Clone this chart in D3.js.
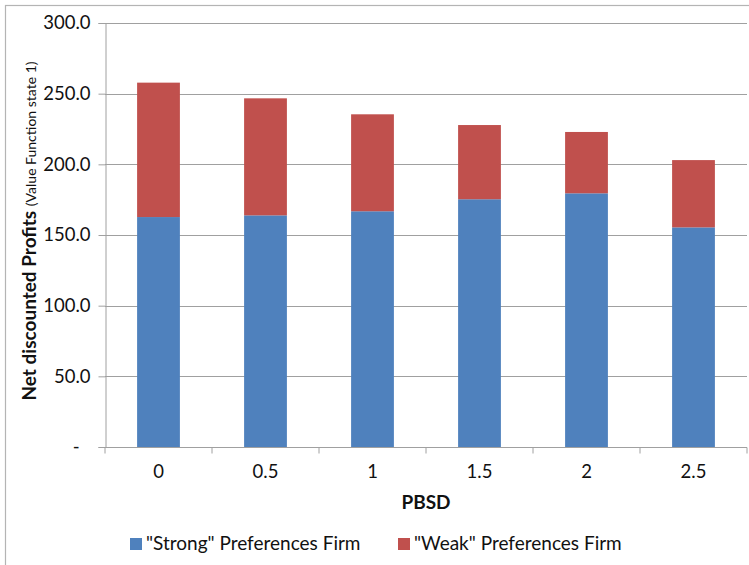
<!DOCTYPE html>
<html>
<head>
<meta charset="utf-8">
<script src="https://cdn.jsdelivr.net/npm/d3@7"></script>
<style>
  html, body { margin: 0; padding: 0; background: #fff; }
  svg { display: block; font-family: Lato, "Open Sans", sans-serif; }
</style>
</head>
<body>
<svg id="chart" width="749" height="565"></svg>
<script>
// PBSD levels on the x axis
const categories = ["0", "0.5", "1", "1.5", "2", "2.5"];
// Net discounted profits per firm type
const strongValues = [162.7, 163.9, 166.8, 175.3, 179.5, 155.4];
const weakValues = [95.1, 82.8, 68.6, 52.5, 43.4, 47.6];
const seriesNames = ["\"Strong\" Preferences Firm", "\"Weak\" Preferences Firm"];
const seriesColors = ["#4F81BD", "#C0504D"];
const yTicks = [0, 50, 100, 150, 200, 250, 300];

const svg = d3.select("#chart");
const margin = { left: 105, right: 2, top: 23, bottom: 118 };
const W = 749, H = 565;
const x0 = margin.left, x1 = W - margin.right;
const yTop = margin.top, yBottom = H - margin.bottom;

// outer frame
svg.append("rect")
  .attr("x", 5.5).attr("y", 5.5)
  .attr("width", 800).attr("height", 800)
  .attr("fill", "none").attr("stroke", "#b4b4b4").attr("stroke-width", 1.2);

const rows = categories.map((c, i) => ({ cat: c, strong: strongValues[i], weak: weakValues[i] }));
const stack = d3.stack().keys(["strong", "weak"])(rows);

const x = d3.scaleBand().domain(categories).range([x0, x1]).paddingInner(0.6).paddingOuter(0.3);
const y = d3.scaleLinear().domain([0, 300]).range([yBottom, yTop]);

// gridlines
svg.append("g")
  .selectAll("line")
  .data(yTicks.filter(d => d > 0))
  .join("line")
  .attr("x1", x0).attr("x2", x1)
  .attr("y1", d => Math.round(y(d)) + 0.5).attr("y2", d => Math.round(y(d)) + 0.5)
  .attr("stroke", "#a0a0a0").attr("stroke-width", 1);

// stacked bars
svg.append("g")
  .selectAll("g")
  .data(stack)
  .join("g")
  .attr("fill", (d, i) => seriesColors[i])
  .selectAll("rect")
  .data(d => d)
  .join("rect")
  .attr("x", d => x(d.data.cat))
  .attr("width", x.bandwidth())
  .attr("y", d => y(d[1]))
  .attr("height", d => y(d[0]) - y(d[1]));

// y axis
const yAxis = d3.axisLeft(y).tickValues(yTicks).tickSize(7).tickPadding(8)
  .tickFormat(d => d === 0 ? "-" : d3.format(".1f")(d));
const gy = svg.append("g").attr("transform", `translate(${x0 + 0.5},0)`).call(yAxis);
gy.select(".domain").attr("stroke", "#a0a0a0");
gy.selectAll(".tick line").attr("stroke", "#a0a0a0");
gy.selectAll(".tick text")
  .attr("fill", "#111").style("font-size", "18.5px").style("font-family", "Lato, sans-serif")
  .filter(d => d === 0).attr("x", -26);

// x axis with boundary ticks between categories
const gx = svg.append("g").attr("transform", `translate(0,${Math.round(yBottom) + 0.5})`);
gx.append("line").attr("x1", x0).attr("x2", x1).attr("stroke", "#a0a0a0");
const boundaries = d3.range(categories.length + 1).map(i => x0 + i * (x1 - x0) / categories.length);
gx.selectAll(".bt").data(boundaries).join("line")
  .attr("x1", d => d).attr("x2", d => d).attr("y1", 0).attr("y2", 6)
  .attr("stroke", "#a0a0a0");
gx.selectAll(".lbl").data(categories).join("text")
  .attr("x", d => x(d) + x.bandwidth() / 2)
  .attr("y", 30)
  .attr("text-anchor", "middle")
  .attr("fill", "#111").style("font-size", "18.5px")
  .text(d => d);

// axis titles
svg.append("text")
  .attr("x", (x0 + x1) / 2).attr("y", 509)
  .attr("text-anchor", "middle")
  .attr("fill", "#111").style("font-size", "19px").style("font-weight", "bold")
  .text("PBSD");

const yt = svg.append("text")
  .attr("transform", `translate(36,${(yTop + yBottom) / 2 - 4}) rotate(-90)`)
  .attr("text-anchor", "middle")
  .attr("fill", "#111");
yt.append("tspan").style("font-size", "19px").style("font-weight", "bold").text("Net discounted Profits ");
yt.append("tspan").style("font-size", "14px").text("(Value Function state 1)");

// legend
const legendX = [130, 398];
const lg = svg.append("g");
seriesNames.forEach((name, i) => {
  lg.append("rect").attr("x", legendX[i]).attr("y", 538).attr("width", 12).attr("height", 12)
    .attr("fill", seriesColors[i]);
  lg.append("text").attr("x", legendX[i] + 16).attr("y", 550)
    .attr("fill", "#111").style("font-size", "19px").text(name);
});
</script>
</body>
</html>
